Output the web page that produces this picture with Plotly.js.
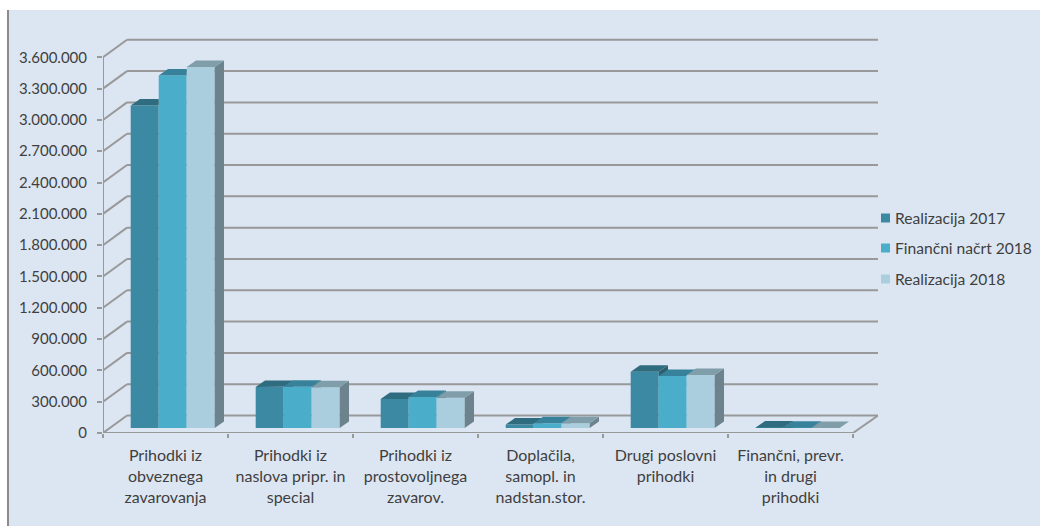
<!DOCTYPE html>
<html>
<head>
<meta charset="utf-8">
<script src="https://cdn.plot.ly/plotly-3.0.1.min.js"></script>
<style>
html,body{margin:0;padding:0;background:#fff;width:1040px;height:526px;overflow:hidden}
#chart{position:absolute;left:8px;top:10px;width:1032px;height:516px}
#edge{position:absolute;left:7px;top:10px;width:2px;height:516px;background:#8c8c8c;z-index:5}
</style>
</head>
<body>
<div id="edge"></div>
<div id="chart"></div>
<script>
const categories = [
  "Prihodki iz<br>obveznega<br>zavarovanja",
  "Prihodki iz<br>naslova pripr. in<br>special",
  "Prihodki iz<br>prostovoljnega<br>zavarov.",
  "Doplačila,<br>samopl. in<br>nadstan.stor.",
  "Drugi poslovni<br>prihodki",
  "Finančni, prevr.<br>in drugi<br>prihodki"
];
const seriesNames = ["Realizacija 2017", "Finančni načrt 2018", "Realizacija 2018"];
const realizacija2017 = [3090000, 393000, 278000, 33000, 540000, 4000];
const nacrt2018 = [3377000, 395000, 297000, 45000, 498000, 2000];
const realizacija2018 = [3459000, 390000, 291000, 45000, 508000, 1000];
const yTicks = [0,300000,600000,900000,1200000,1500000,1800000,2100000,2400000,2700000,3000000,3300000,3600000];
const yTickText = ["0","300.000","600.000","900.000","1.200.000","1.500.000","1.800.000","2.100.000","2.400.000","2.700.000","3.000.000","3.300.000","3.600.000"];

const frontColors = ["#3C89A3","#4AAECA","#AACEDE"];
const topColors = ["#2F6C7F","#37829A","#7F9EAA"];
const sideColors = ["#2C5F70","#2F7186","#6C838E"];
const gridColor = "#999999";
const textColor = "#3f3f3f";
const fontFamily = "Lato, sans-serif";

// projection constants (one category = 125px, 300.000 = 31.3px)
const wallDx = 0.192, wallDy = 167700;
const barStart = 0.2216, barW = 0.224, depthX = 0.0744, depthY = 62300, floorBase = 47900;
const xMax = 6.2, yMax = 3813700, plotW = 775, plotH = 398;

const allSeries = [realizacija2017, nacrt2018, realizacija2018];
const traces = [];

// front faces: real bar traces
allSeries.forEach((vals, s) => {
  traces.push({
    type: "bar", name: seriesNames[s],
    x: vals.map((_, i) => i + 0.5), y: vals,
    base: vals.map(() => floorBase),
    width: barW, offset: -0.5 + barStart + s * barW,
    marker: {color: frontColors[s], line: {width: 0}},
    hovertemplate: "%{y:,.0f}<extra>" + seriesNames[s] + "</extra>",
    showlegend: false
  });
});

// side and top faces, left to right; the part hidden by the next bar's front is left out
allSeries.forEach((vals, s) => {
  const sx = [], sy = [], tx = [], ty = [];
  vals.forEach((v, i) => {
    const l = i + barStart + s * barW, r = l + barW;
    const yt = floorBase + v;
    const next = s < 2 ? floorBase + allSeries[s + 1][i] : floorBase;
    if (s === 2) {
      sx.push(r, r + depthX, r + depthX, r, null);
      sy.push(yt, yt + depthY, floorBase + depthY, floorBase, null);
    } else if (yt > next) {
      sx.push(r, r + depthX, r + depthX, r, null);
      sy.push(yt, yt + depthY, next, next, null);
    } else if (next < yt + depthY) {
      const f = (next - yt) / depthY;
      sx.push(r + depthX * f, r + depthX, r + depthX, null);
      sy.push(next, yt + depthY, next, null);
    }
    let px, py;
    if (s === 2 || next <= yt) {
      px = [l, r, r + depthX, l + depthX];
      py = [yt, yt, yt + depthY, yt + depthY];
    } else if (next >= yt + depthY) {
      px = [l, r, r, l + depthX];
      py = [yt, yt, yt + depthY, yt + depthY];
    } else {
      const f = (next - yt) / depthY;
      px = [l, r, r, r + depthX * f, r + depthX, l + depthX];
      py = [yt, yt, next, next, yt + depthY, yt + depthY];
    }
    tx.push(...px, null); ty.push(...py, null);
  });
  [[sx, sy, sideColors[s]], [tx, ty, topColors[s]]].forEach(([x, y, c]) => {
    traces.push({type: "scatter", mode: "lines", x, y, fill: "toself", fillcolor: c,
      line: {width: 0, color: c}, hoverinfo: "skip", showlegend: false});
  });
});

// wall grid, floor and axis lines
const line = (x0, y0, x1, y1) => ({type: "line", xref: "x", yref: "y", x0, y0, x1, y1, layer: "below",
  line: {color: gridColor, width: 2}});
const shapes = [];
yTicks.forEach(v => {
  shapes.push(line(0, v, wallDx, v + wallDy));
  shapes.push(line(wallDx, v + wallDy, xMax, v + wallDy));
});
shapes.push(line(6, 0, xMax, wallDy));
shapes.push(line(0, 0, 6, 0));
shapes.push(line(0, 0, 0, yTicks[yTicks.length - 1]));

// key
const legendRows = [218, 248, 279];
const annotations = [];
seriesNames.forEach((n, s) => {
  const py = legendRows[s];
  shapes.push({type: "rect", xref: "paper", yref: "paper",
    x0: (881 - 103) / plotW, x1: (890 - 103) / plotW,
    y0: (433 - py - 4.5) / plotH, y1: (433 - py + 4.5) / plotH,
    fillcolor: frontColors[s], line: {width: 0}});
  annotations.push({xref: "paper", yref: "paper", x: (892.5 - 103) / plotW, y: (433 - py) / plotH,
    xanchor: "left", yanchor: "middle", showarrow: false, text: n,
    font: {family: fontFamily, size: 15.6, color: textColor}});
});

const layout = {
  width: 1032, height: 516,
  margin: {l: 95, r: 162, t: 25, b: 93, pad: 0},
  paper_bgcolor: "#DCE6F2", plot_bgcolor: "rgba(0,0,0,0)",
  barmode: "overlay", showlegend: false,
  font: {family: fontFamily, size: 15, color: textColor},
  xaxis: {type: "linear", range: [0, xMax], fixedrange: true, showgrid: false, zeroline: false, showline: false,
    tickmode: "array", tickvals: categories.map((_, i) => i + 0.5), ticktext: categories,
    ticks: "", ticklabelstandoff: 11, tickangle: 0, tickfont: {family: fontFamily, size: 16, color: textColor},
    minor: {tickmode: "array", tickvals: [0,1,2,3,4,5,6], ticks: "outside", ticklen: 4, tickwidth: 1.5, tickcolor: gridColor, showgrid: false}},
  yaxis: {range: [0, yMax], fixedrange: true, showgrid: false, zeroline: false, showline: false,
    tickmode: "array", tickvals: yTicks, ticktext: yTickText, ticklabelstandoff: 7,
    tickfont: {family: fontFamily, size: 15, color: textColor},
    ticks: "outside", ticklen: 5, tickwidth: 1.5, tickcolor: gridColor},
  shapes, annotations
};
Plotly.newPlot("chart", traces, layout, {displayModeBar: false, responsive: false});
</script>
</body>
</html>
